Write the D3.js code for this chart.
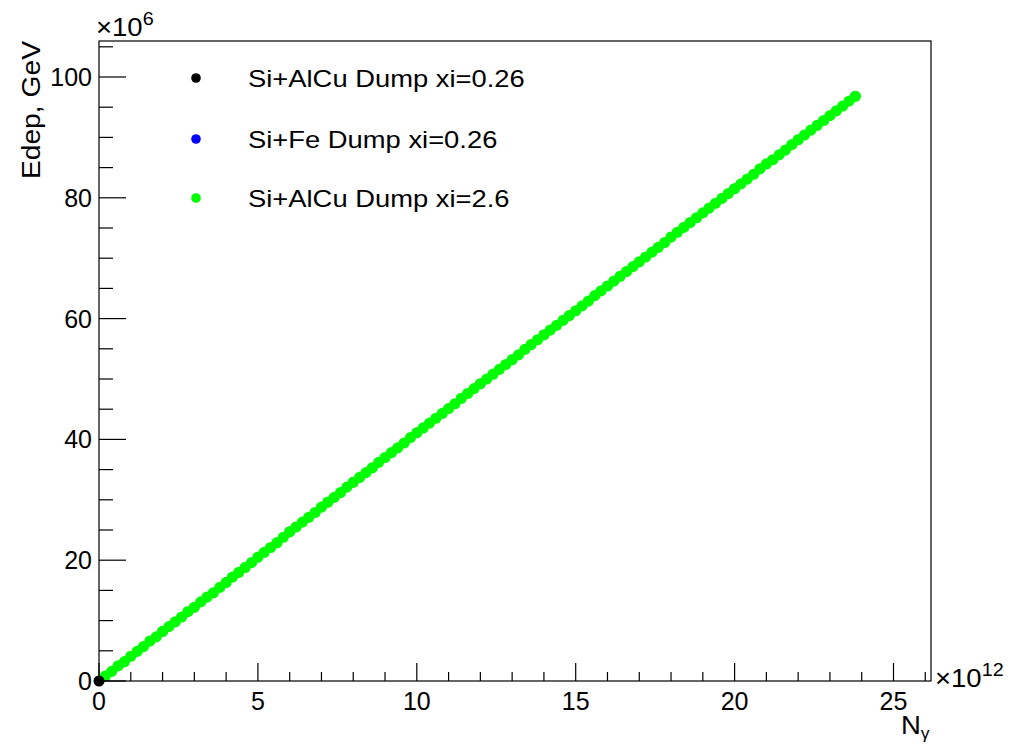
<!DOCTYPE html>
<html>
<head>
<meta charset="utf-8">
<script src="https://cdn.jsdelivr.net/npm/d3@7"></script>
<style>
  body { margin: 0; background: #fff; }
  text { font-family: "Liberation Sans", Arial, sans-serif; fill: #000; }
</style>
</head>
<body>
<div id="chart"></div>
<script>
// N_gamma in units of 1e12, Edep in units of 1e6 GeV
const nGamma = [0.2,0.4,0.6,0.8,1.0,1.2,1.4,1.6,1.8,2.0,2.2,2.4,2.6,2.8,3.0,3.2,3.4,3.6,3.8,4.0,
  4.2,4.4,4.6,4.8,5.0,5.2,5.4,5.6,5.8,6.0,6.2,6.4,6.6,6.8,7.0,7.2,7.4,7.6,7.8,8.0,
  8.2,8.4,8.6,8.8,9.0,9.2,9.4,9.6,9.8,10.0,10.2,10.4,10.6,10.8,11.0,11.2,11.4,11.6,11.8,12.0,
  12.2,12.4,12.6,12.8,13.0,13.2,13.4,13.6,13.8,14.0,14.2,14.4,14.6,14.8,15.0,15.2,15.4,15.6,15.8,16.0,
  16.2,16.4,16.6,16.8,17.0,17.2,17.4,17.6,17.8,18.0,18.2,18.4,18.6,18.8,19.0,19.2,19.4,19.6,19.8,20.0,
  20.2,20.4,20.6,20.8,21.0,21.2,21.4,21.6,21.8,22.0,22.2,22.4,22.6,22.8,23.0,23.2,23.4,23.6,23.8];
const edepAlCu26 = [0.8,1.6,2.5,3.2,4.1,4.9,5.7,6.6,7.3,8.2,9.0,9.8,10.6,11.5,12.2,13.1,13.9,14.6,15.5,16.3,
  17.2,18.0,18.8,19.6,20.5,21.3,22.1,22.9,23.8,24.7,25.5,26.3,27.1,27.9,28.8,29.6,30.4,31.2,32.1,32.9,
  33.7,34.5,35.3,36.2,37.0,37.8,38.6,39.4,40.3,41.1,41.9,42.7,43.5,44.3,45.1,45.9,46.8,47.6,48.4,49.2,
  50.0,50.8,51.6,52.4,53.2,54.0,54.9,55.7,56.5,57.3,58.1,58.9,59.7,60.5,61.3,62.1,62.9,63.8,64.6,65.4,
  66.2,67.0,67.8,68.6,69.4,70.2,71.0,71.8,72.6,73.5,74.3,75.1,75.9,76.7,77.5,78.3,79.1,79.9,80.7,81.5,
  82.3,83.1,83.9,84.8,85.6,86.3,87.1,87.9,88.8,89.6,90.4,91.2,92.0,92.8,93.6,94.4,95.2,96.0,96.8];
const nGammaAlCu026 = [0,2,4,6,8,10,12,14,16,18,20,22,23.8];
const edepAlCu026 = [0,8.2,16.3,24.7,32.9,41.1,49.2,57.3,65.4,73.5,81.5,89.6,96.8];
const nGammaFe026 = [2,4,6,8,10,12,14,16,18,20,22,23.8];
const edepFe026 = [8.2,16.3,24.7,32.9,41.1,49.2,57.3,65.4,73.5,81.5,89.6,96.8];

const seriesNames = ["Si+AlCu Dump xi=0.26", "Si+Fe Dump xi=0.26", "Si+AlCu Dump xi=2.6"];
const seriesColors = ["#000000", "#0000ff", "#00ff00"];
const xTicks = [0, 5, 10, 15, 20, 25];
const yTicks = [0, 20, 40, 60, 80, 100];

const series = [
  { name: seriesNames[0], color: seriesColors[0], r: 5, pts: nGammaAlCu026.map((x, i) => [x, edepAlCu026[i]]) },
  { name: seriesNames[1], color: seriesColors[1], r: 5, pts: nGammaFe026.map((x, i) => [x, edepFe026[i]]) },
  { name: seriesNames[2], color: seriesColors[2], r: 5.6, pts: nGamma.map((x, i) => [x, edepAlCu26[i]]) }
];

const W = 1012, H = 747;
const fLeft = 99, fRight = 931, fTop = 41, fBottom = 681;

const svg = d3.select('#chart').append('svg')
  .attr('width', W).attr('height', H);

const x = d3.scaleLinear().domain([0, 26.18]).range([fLeft, fRight]);
const y = d3.scaleLinear().domain([0, 105.96]).range([fBottom, fTop]);

// data markers (drawn before the frame so axis lines stay on top)
[series[1], series[0], series[2]].forEach(s => {
  svg.append('g').selectAll('circle').data(s.pts).enter().append('circle')
    .attr('cx', d => x(d[0])).attr('cy', d => y(d[1]))
    .attr('r', s.r).attr('fill', s.color);
});
// the black point at the origin sits on top
svg.append('circle').attr('cx', x(nGammaAlCu026[0])).attr('cy', y(edepAlCu026[0]))
  .attr('r', 5.5).attr('fill', seriesColors[0]);

// frame
svg.append('rect')
  .attr('x', fLeft).attr('y', fTop)
  .attr('width', fRight - fLeft).attr('height', fBottom - fTop)
  .attr('fill', 'none').attr('stroke', '#000').attr('stroke-width', 1.2);

// x axis ticks
const xMinor = d3.range(0, 26.5, 1);
svg.append('g').selectAll('line').data(xMinor).enter().append('line')
  .attr('x1', d => x(d)).attr('x2', d => x(d))
  .attr('y1', fBottom).attr('y2', d => fBottom - (d % 5 === 0 ? 18 : 9))
  .attr('stroke', '#000').attr('stroke-width', 1.2);
svg.append('g').selectAll('text').data(xTicks).enter().append('text')
  .attr('x', d => x(d)).attr('y', 710)
  .attr('text-anchor', 'middle').attr('font-size', 25)
  .text(d => d);

// y axis ticks
const yMinor = d3.range(0, 106, 5);
svg.append('g').selectAll('line').data(yMinor).enter().append('line')
  .attr('x1', fLeft).attr('x2', d => fLeft + (d % 20 === 0 ? 27 : 14))
  .attr('y1', d => y(d)).attr('y2', d => y(d))
  .attr('stroke', '#000').attr('stroke-width', 1.2);
svg.append('g').selectAll('text').data(yTicks).enter().append('text')
  .attr('x', fLeft - 7).attr('y', d => y(d) + 9)
  .attr('text-anchor', 'end').attr('font-size', 25)
  .text(d => d);

// exponents
const ex = svg.append('text').attr('transform', 'translate(96,36) scale(1.1,1)').attr('font-size', 25);
ex.append('tspan').text('×10');
ex.append('tspan').attr('font-size', 18).attr('dy', -11).text('6');
const ex2 = svg.append('text').attr('transform', 'translate(935,687) scale(1.1,1)').attr('font-size', 25);
ex2.append('tspan').text('×10');
ex2.append('tspan').attr('font-size', 18).attr('dy', -11).text('12');

// axis titles
svg.append('text')
  .attr('transform', `translate(40, ${fTop}) rotate(-90) scale(1.13,1)`)
  .attr('text-anchor', 'end').attr('font-size', 25)
  .text('Edep, GeV');
const xt = svg.append('text').attr('transform', 'translate(901,734) scale(1.1,1)').attr('font-size', 25);
xt.append('tspan').text('N');
xt.append('tspan').attr('font-size', 16).attr('dy', 5).text('γ');

// legend
const legY = [78, 139, 198];
const leg = svg.append('g');
series.forEach((s, i) => {
  leg.append('circle').attr('cx', 196).attr('cy', legY[i]).attr('r', 4.8).attr('fill', s.color);
  leg.append('text').attr('transform', `translate(248, ${legY[i] + 9}) scale(1.19,1)`)
    .attr('font-size', 23).text(s.name);
});
</script>
</body>
</html>
